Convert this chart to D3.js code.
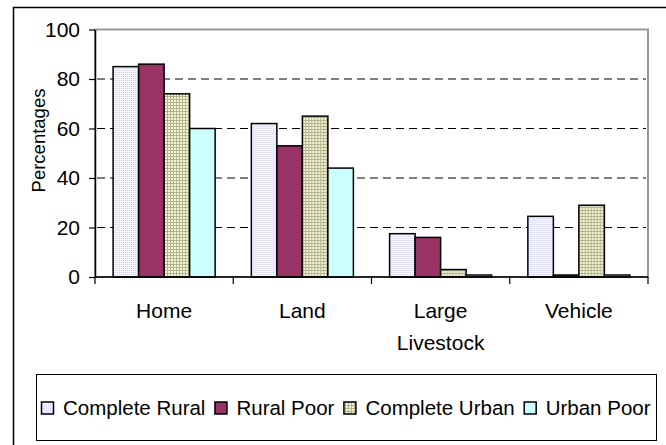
<!DOCTYPE html>
<html>
<head>
<meta charset="utf-8">
<script src="https://cdn.jsdelivr.net/npm/d3@7"></script>
<style>
    html, body { margin: 0; padding: 0; background: #fff; overflow: hidden; }
    text { font-family: "Liberation Sans", Arial, sans-serif; fill: #000; }
</style>
</head>
<body>
<div id="chart"></div>
<script>
// dados (percentagens)
const categories = ["Home", "Land", "Large Livestock", "Vehicle"];
const seriesNames = ["Complete Rural", "Rural Poor", "Complete Urban", "Urban Poor"];
const completeRural = [85, 62, 17.5, 24.5];
const ruralPoor = [86, 53, 16, 0.8];
const completeUrban = [74, 65, 3, 29];
const urbanPoor = [60, 44, 0.8, 0.8];
const yTicks = [0, 20, 40, 60, 80, 100];

const seriesValues = [completeRural, ruralPoor, completeUrban, urbanPoor];

const config = { width: 666, height: 445, left: 95, right: 648, top: 29.5, bottom: 277 };

const svg = d3.select("#chart")
    .append("svg")
    .attr("width", config.width)
    .attr("height", config.height);

// padrões de preenchimento (estilo excel)
const defs = svg.append("defs");

let pLav = defs.append("pattern").attr("id", "fillRural")
    .attr("patternUnits", "userSpaceOnUse").attr("width", 2).attr("height", 2);
pLav.append("rect").attr("width", 2).attr("height", 2).attr("fill", "#f6f6ff");
pLav.append("rect").attr("width", 1).attr("height", 1).attr("fill", "#cfcff5");

let pOlive = defs.append("pattern").attr("id", "fillUrban")
    .attr("patternUnits", "userSpaceOnUse").attr("width", 3).attr("height", 3);
pOlive.append("rect").attr("width", 3).attr("height", 3).attr("fill", "#f4f4d6");
pOlive.append("rect").attr("width", 3).attr("height", 1).attr("fill", "#b4b48e");
pOlive.append("rect").attr("width", 1).attr("height", 3).attr("fill", "#b4b48e");

const fills = ["url(#fillRural)", "#993366", "url(#fillUrban)", "#ccffff"];

// borda externa do gráfico (cortada à direita e embaixo)
svg.append("rect")
    .attr("x", 13.5).attr("y", 7.5)
    .attr("width", 800).attr("height", 600)
    .attr("fill", "none").attr("stroke", "#000").attr("stroke-width", 1.5);

// escalas
const xScale = d3.scaleBand()
    .domain(categories)
    .range([config.left, config.right])
    .padding(0);

const xInner = d3.scaleBand()
    .domain(seriesNames)
    .range([0, xScale.bandwidth()])
    .paddingInner(0)
    .paddingOuter(0.71);

const yScale = d3.scaleLinear()
    .domain([0, 100])
    .range([config.bottom, config.top]);

// moldura da área de plotagem
svg.append("rect")
    .attr("x", config.left).attr("y", config.top)
    .attr("width", config.right - config.left)
    .attr("height", config.bottom - config.top)
    .attr("fill", "none").attr("stroke", "#999").attr("stroke-width", 2);

// linhas de grade tracejadas
svg.append("g")
    .selectAll("line")
    .data(yTicks.filter(d => d > 0 && d < 100))
    .join("line")
    .attr("x1", config.left + 2).attr("x2", config.right - 2)
    .attr("y1", d => yScale(d)).attr("y2", d => yScale(d))
    .attr("stroke", "#000").attr("stroke-width", 1.2)
    .attr("stroke-dasharray", "8,5");

// barras
const groups = svg.append("g")
    .selectAll("g")
    .data(categories)
    .join("g")
    .attr("transform", d => `translate(${xScale(d)},0)`);

groups.selectAll("rect")
    .data((c, ci) => seriesNames.map((s, si) => ({ s: s, si: si, v: seriesValues[si][ci] })))
    .join("rect")
    .attr("x", d => xInner(d.s))
    .attr("width", xInner.bandwidth())
    .attr("y", d => yScale(d.v))
    .attr("height", d => yScale(0) - yScale(d.v))
    .attr("fill", d => fills[d.si])
    .attr("stroke", "#000")
    .attr("stroke-width", 1.5);

// eixo y
let yAxis = d3.axisLeft(yScale).tickValues(yTicks).tickSize(6).tickSizeOuter(0).tickPadding(9);
let gy = svg.append("g")
    .attr("transform", `translate(${config.left},0)`)
    .call(yAxis);
gy.select(".domain").attr("stroke", "#000").attr("stroke-width", 1.5);
gy.selectAll(".tick line").attr("stroke", "#000").attr("stroke-width", 1.2);
gy.selectAll(".tick text")
    .style("font-family", "'Liberation Sans', Arial, sans-serif")
    .style("font-size", "21px")
    .attr("fill", "#000");

// eixo x: linha base + marcas entre categorias
svg.append("line")
    .attr("x1", config.left).attr("x2", config.right)
    .attr("y1", yScale(0)).attr("y2", yScale(0))
    .attr("stroke", "#000").attr("stroke-width", 1.5);

const bounds = categories.map(c => xScale(c)).concat([xScale(categories[categories.length - 1]) + xScale.bandwidth()]);
svg.append("g")
    .selectAll("line")
    .data(bounds)
    .join("line")
    .attr("x1", d => d).attr("x2", d => d)
    .attr("y1", yScale(0)).attr("y2", yScale(0) + 7)
    .attr("stroke", "#000").attr("stroke-width", 1.2);

// rótulos das categorias (quebra quando não cabe)
const labels = svg.append("g")
    .selectAll("text")
    .data(categories)
    .join("text")
    .attr("text-anchor", "middle")
    .style("font-size", "21px")
    .attr("x", d => xScale(d) + xScale.bandwidth() / 2)
    .attr("y", 318)
    .text(d => d);

labels.each(function (d) {
    let t = d3.select(this);
    if (this.getComputedTextLength() > xScale.bandwidth() * 0.8) {
        let words = d.split(" ");
        t.text(null);
        words.forEach((w, i) => {
            t.append("tspan")
                .attr("x", xScale(d) + xScale.bandwidth() / 2)
                .attr("dy", i === 0 ? 0 : 32)
                .text(w);
        });
    }
});

// título do eixo y
svg.append("text")
    .attr("transform", "translate(45,140.5) rotate(-90)")
    .attr("text-anchor", "middle")
    .style("font-size", "18.5px")
    .text("Percentages");

// legenda
const legend = svg.append("g");
legend.append("rect")
    .attr("x", 36.5).attr("y", 374.5)
    .attr("width", 620).attr("height", 66)
    .attr("fill", "#fff").attr("stroke", "#000").attr("stroke-width", 1);

let lx = 41;
seriesNames.forEach((s, i) => {
    legend.append("rect")
        .attr("x", lx + 0.5).attr("y", 402)
        .attr("width", 12).attr("height", 12)
        .attr("fill", fills[i]).attr("stroke", "#000").attr("stroke-width", 1.5);
    let t = legend.append("text")
        .attr("x", lx + 22).attr("y", 415)
        .style("font-size", "20.5px")
        .text(s);
    lx = lx + 22 + t.node().getComputedTextLength() + 9;
});
</script>
</body>
</html>
